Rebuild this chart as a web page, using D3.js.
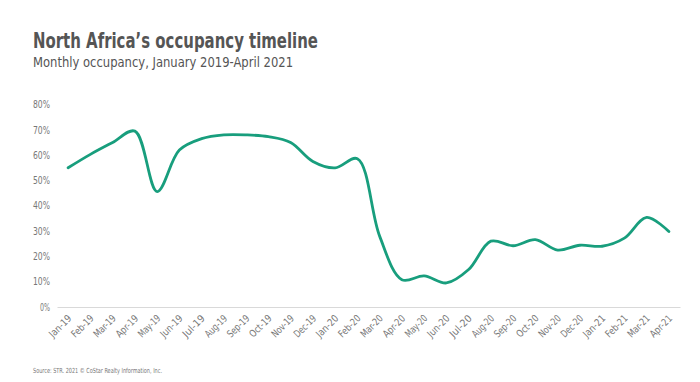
<!DOCTYPE html>
<html><head><meta charset="utf-8">
<script src="https://cdn.jsdelivr.net/npm/d3@7"></script>
<style>
body{margin:0;background:#fff;}
text{font-family:"Liberation Sans Narrow","DejaVu Sans Condensed","Roboto",sans-serif;}
</style></head>
<body><svg id="c" width="700" height="382"></svg>
<script>
const months = ["Jan-19","Feb-19","Mar-19","Apr-19","May-19","Jun-19","Jul-19","Aug-19","Sep-19","Oct-19","Nov-19","Dec-19",
"Jan-20","Feb-20","Mar-20","Apr-20","May-20","Jun-20","Jul-20","Aug-20","Sep-20","Oct-20","Nov-20","Dec-20",
"Jan-21","Feb-21","Mar-21","Apr-21"];
const occupancy = [55.0,60.3,65.0,69.5,45.6,62.0,66.5,68.0,68.0,67.3,65.0,57.5,
55.0,58.6,28.0,10.8,12.3,9.5,14.8,26.0,24.2,26.6,22.5,24.4,
24.0,27.2,35.4,29.8];
const yTicks = [0,10,20,30,40,50,60,70,80];

const svg = d3.select("#c");
const x = d3.scaleBand().domain(months).range([57,680]);
const y = d3.scaleLinear().domain([0,80]).range([307,104.5]);

svg.append("text").attr("x",33).attr("y",48).attr("fill","#555").attr("font-size",21).attr("font-weight","bold")
  .attr("textLength",285).attr("lengthAdjust","spacingAndGlyphs")
  .text("North Africa’s occupancy timeline");
svg.append("text").attr("x",33).attr("y",67).attr("fill","#555").attr("font-size",14)
  .attr("textLength",260).attr("lengthAdjust","spacingAndGlyphs")
  .text("Monthly occupancy, January 2019-April 2021");

// y axis
const ya = svg.append("g").attr("transform","translate(50,0)")
  .call(d3.axisLeft(y).tickValues(yTicks).tickFormat(d=>d+"%").tickSize(0).tickPadding(0));
ya.select(".domain").remove();
ya.selectAll("text").attr("fill","#777").attr("font-size",10)
  .attr("textLength", d => d === 0 ? 10 : 17).attr("lengthAdjust","spacingAndGlyphs")
  .style("font-family",'"Liberation Sans Narrow","DejaVu Sans Condensed",sans-serif');

// x axis
const xa = svg.append("g").attr("transform","translate(0,307)")
  .call(d3.axisBottom(x).tickSize(0).tickPadding(0));
xa.select(".domain").attr("stroke","#d9d9d9").attr("stroke-width",1);
xa.selectAll("text").attr("fill","#777").attr("font-size",10)
  .attr("textLength",27).attr("lengthAdjust","spacingAndGlyphs")
  .style("font-family",'"Liberation Sans Narrow","DejaVu Sans Condensed",sans-serif')
  .attr("text-anchor","end").attr("dy",0)
  .attr("transform","translate(4,12) rotate(-45)");

const line = d3.line().x((d,i)=>x(months[i])+x.bandwidth()/2).y(d=>y(d)).curve(d3.curveCatmullRom.alpha(0.5));
svg.append("path").datum(occupancy).attr("d",line).attr("fill","none").attr("stroke","#189e7d").attr("stroke-width",2.8)
  .attr("stroke-linecap","round").attr("stroke-linejoin","round");

svg.append("text").attr("x",33).attr("y",373).attr("fill","#777").attr("font-size",7)
  .attr("textLength",129).attr("lengthAdjust","spacingAndGlyphs")
  .text("Source: STR. 2021 © CoStar Realty Information, Inc.");
</script></body></html>
